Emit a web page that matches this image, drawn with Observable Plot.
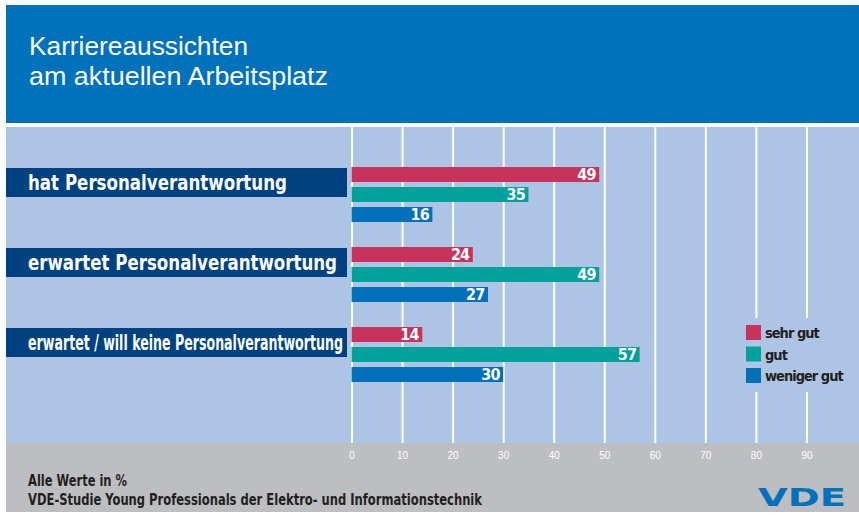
<!DOCTYPE html>
<html>
<head>
<meta charset="utf-8">
<script src="https://cdn.jsdelivr.net/npm/d3@7"></script>
<script src="https://cdn.jsdelivr.net/npm/@observablehq/plot@0.6"></script>
<style>
  html, body { margin: 0; padding: 0; background: #fff; }
  body { width: 859px; height: 516px; position: relative; overflow: hidden; font-family: "Liberation Sans", Arial, sans-serif; }
  #bg { position: absolute; left: 0; top: 0; }
  #chart { position: absolute; left: 0; top: 127px; }
  #chart svg { background: none !important; overflow: visible; }
  .narrow { font-family: "Liberation Sans Narrow", "DejaVu Sans Condensed", "Liberation Sans", sans-serif; font-weight: bold; }
  .vals text { letter-spacing: -0.8px; }
</style>
</head>
<body>
<svg id="bg" width="859" height="516">
  <rect x="6" y="5" width="853" height="118" fill="#0071bb"></rect>
  <text x="29" y="55" fill="#ffffff" font-size="26.5" font-family="Liberation Sans, Arial, sans-serif" textLength="219" lengthAdjust="spacingAndGlyphs">Karriereaussichten</text>
  <text x="29" y="85" fill="#ffffff" font-size="26.5" font-family="Liberation Sans, Arial, sans-serif" textLength="299" lengthAdjust="spacingAndGlyphs">am aktuellen Arbeitsplatz</text>
  <rect x="6" y="127" width="853" height="316" fill="#aec4e5"></rect>
  <rect x="6" y="443" width="853" height="69" fill="#bdbec1"></rect>
  <text class="narrow" x="28" y="486" fill="#231f20" font-size="15" textLength="99" lengthAdjust="spacingAndGlyphs">Alle Werte in %</text>
  <text class="narrow" x="28" y="505" fill="#231f20" font-size="15" textLength="454" lengthAdjust="spacingAndGlyphs">VDE-Studie Young Professionals der Elektro- und Informationstechnik</text>
  <text x="758" y="506" fill="#0071bb" font-size="24" font-weight="900" font-family="DejaVu Sans, sans-serif" textLength="88" lengthAdjust="spacingAndGlyphs">VDE</text>
</svg>
<div id="chart"></div>
<script>
// ---- data ----
const categories = [
  "hat Personalverantwortung",
  "erwartet Personalverantwortung",
  "erwartet / will keine Personalverantwortung"
];
const series = ["sehr gut", "gut", "weniger gut"];
const sehrGut = [49, 24, 14];
const gut = [35, 49, 57];
const wenigerGut = [16, 27, 30];
const xTicks = [0, 10, 20, 30, 40, 50, 60, 70, 80, 90];
const seriesColors = ["#c9325a", "#00a19b", "#0070ba"];
const labelWidths = [259, 309, 315];

// ---- build table ----
const valuesBySeries = [sehrGut, gut, wenigerGut];
const key = (c, s) => c + "|" + s;
const rows = [];
const yKeys = [];
categories.forEach((c, i) => {
  series.forEach((s, j) => {
    rows.push({cat: c, series: s, value: valuesBySeries[j][i], key: key(c, s)});
    yKeys.push(key(c, s));
  });
  yKeys.push(key(c, "")); // spacer slot
});

const plot = Plot.plot({
  width: 859,
  height: 345,
  marginLeft: 351.5,
  marginRight: 2,
  marginTop: 0,
  marginBottom: 29,
  style: {background: "transparent", color: "white", fontFamily: "Liberation Sans, Arial, sans-serif", fontSize: "10px", overflow: "visible"},
  x: {domain: [0, 100], ticks: xTicks, tickSize: 0, tickPadding: 8, label: null},
  y: {domain: yKeys, range: [40, 275], paddingInner: 0.25, paddingOuter: 0, align: 0, axis: null},
  color: {domain: series, range: seriesColors},
  marks: [
    Plot.ruleX(xTicks, {stroke: "white", strokeWidth: 2}),
    Plot.barX(rows, {x: "value", y: "key", fill: "series"}),
    Plot.text(rows, {
      x: "value", y: "key", text: d => String(d.value),
      textAnchor: "end", dx: -4, fill: "white", fontWeight: "bold", fontSize: 16,
      fontFamily: "Liberation Sans Narrow, DejaVu Sans Condensed, sans-serif"
    })
  ]
});
document.getElementById("chart").appendChild(plot);
d3.select(plot).selectAll('g[aria-label="text"]').classed("vals", true);

// ---- category label boxes, positioned from the y scale ----
const ys = plot.scale("y");
const svg = d3.select(plot);
const yOf = (k) => {
  if (ys.apply) return ys.apply(k);
  const idx = ys.domain.indexOf(k);
  const step = (ys.range[1] - ys.range[0]) / (ys.domain.length - 0.25);
  return ys.range[0] + idx * step;
};
const lab = svg.append("g").attr("class", "cat-labels").attr("text-anchor", "start");
categories.forEach((c, i) => {
  const top = yOf(key(c, series[0]));
  lab.append("rect").attr("x", 6).attr("y", top + 1).attr("width", 341).attr("height", 29).attr("fill", "#00427f");
  lab.append("text")
    .attr("x", 28).attr("y", top + 23)
    .attr("text-anchor", "start")
    .attr("fill", "white").attr("font-size", 21).attr("font-weight", "bold")
    .attr("font-family", "Liberation Sans Narrow, DejaVu Sans Condensed, sans-serif")
    .attr("textLength", labelWidths[i]).attr("lengthAdjust", "spacingAndGlyphs")
    .text(c);
});

// ---- legend, using the plot's color scale ----
const cs = plot.scale("color");
const leg = svg.append("g").attr("class", "legend").attr("text-anchor", "start");
leg.append("rect").attr("x", 740).attr("y", 191).attr("width", 112).attr("height", 74).attr("fill", "#aec4e5");
cs.domain.forEach((s, i) => {
  const yy = 198 + i * 21.5;
  leg.append("rect").attr("x", 746).attr("y", yy).attr("width", 15).attr("height", 15).attr("fill", cs.range[i]);
  leg.append("text").attr("x", 765).attr("y", yy + 13)
    .attr("text-anchor", "start")
    .attr("fill", "#231f20").attr("font-size", 14.5).attr("font-weight", "bold")
    .attr("font-family", "Liberation Sans Narrow, DejaVu Sans Condensed, sans-serif")
    .attr("letter-spacing", "-1")
    .text(s);
});
</script>
</body>
</html>
